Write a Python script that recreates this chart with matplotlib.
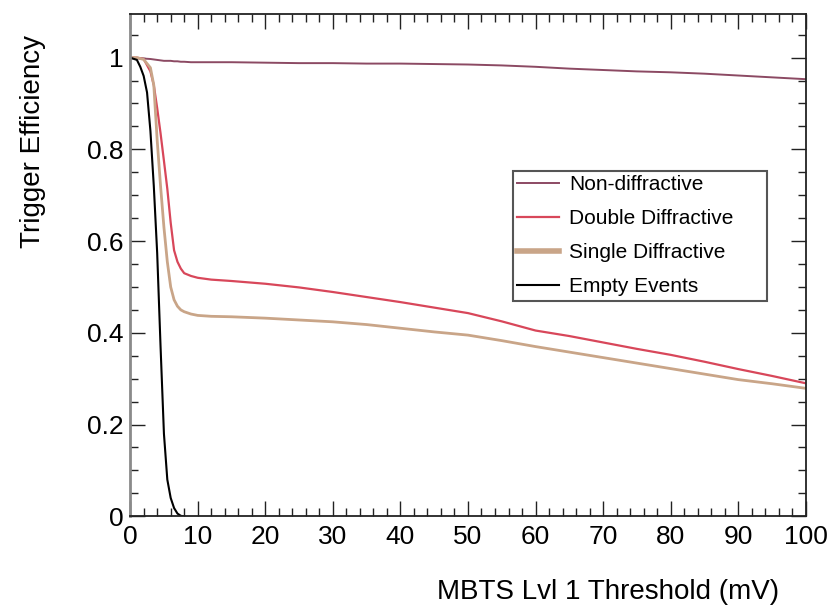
import matplotlib
matplotlib.use("Agg")
import matplotlib.pyplot as plt
from matplotlib.ticker import MultipleLocator, FuncFormatter

plt.rcParams['font.family'] = ['Liberation Sans', 'DejaVu Sans']

# threshold scan points (mV)
threshold = [0, 1, 2, 3, 3.5, 4, 4.5, 5, 5.5, 6, 6.5, 7, 7.5, 8, 9, 10, 12, 15,
             20, 25, 30, 35, 40, 45, 50, 55, 60, 65, 70, 75, 80, 85, 90, 95, 100]

eff_nondiff = [1.0, 0.999, 0.998, 0.997, 0.996, 0.995, 0.994, 0.993, 0.993, 0.993,
               0.992, 0.992, 0.991, 0.991, 0.990, 0.990, 0.990, 0.990,
               0.989, 0.988, 0.988, 0.987, 0.987, 0.986, 0.985, 0.983, 0.980,
               0.976, 0.973, 0.970, 0.968, 0.965, 0.961, 0.957, 0.953]

eff_doublediff = [1.0, 1.0, 0.997, 0.97, 0.94, 0.89, 0.835, 0.775, 0.714, 0.64,
                  0.58, 0.555, 0.54, 0.53, 0.524, 0.52, 0.516, 0.513,
                  0.507, 0.499, 0.489, 0.478, 0.467, 0.455, 0.443, 0.425, 0.405,
                  0.393, 0.379, 0.365, 0.352, 0.337, 0.321, 0.306, 0.29]

eff_singlediff = [1.0, 1.0, 0.996, 0.978, 0.94, 0.82, 0.72, 0.63, 0.555, 0.5,
                  0.472, 0.458, 0.45, 0.446, 0.441, 0.438, 0.436, 0.435,
                  0.432, 0.428, 0.424, 0.418, 0.41, 0.402, 0.395, 0.383, 0.37,
                  0.358, 0.346, 0.334, 0.322, 0.31, 0.298, 0.289, 0.279]

threshold_empty = [0, 1, 1.5, 2, 2.5, 3, 3.5, 4, 4.5, 5, 5.5, 6, 6.5, 7, 7.5, 8]
eff_empty = [1.0, 0.995, 0.98, 0.96, 0.924, 0.84, 0.72, 0.574, 0.37, 0.18,
             0.08, 0.04, 0.018, 0.006, 0.001, 0.0]

fig = plt.figure(figsize=(8.29, 6.11), dpi=100)
ax = fig.add_axes([0.157, 0.155, 0.815, 0.822])

ax.plot(threshold, eff_nondiff, color='#8c4a63', lw=1.4, label='Non-diffractive')
ax.plot(threshold, eff_doublediff, color='#d8475a', lw=1.6, label='Double Diffractive')
ax.plot(threshold, eff_singlediff, color='#c9a588', lw=2.0, label='Single Diffractive')
ax.plot(threshold_empty, eff_empty, color='black', lw=1.5, label='Empty Events')

ax.set_xlim(0, 100)
ax.set_ylim(0, 1.095)

ax.xaxis.set_major_locator(MultipleLocator(10))
ax.xaxis.set_minor_locator(MultipleLocator(2))
ax.yaxis.set_major_locator(MultipleLocator(0.2))
ax.yaxis.set_minor_locator(MultipleLocator(0.05))
ax.yaxis.set_major_formatter(FuncFormatter(lambda v, p: '%g' % round(v, 2)))

ax.tick_params(which='both', direction='in', top=True, right=True,
               labelsize=19, colors='#222222', labelcolor='black')
ax.tick_params(which='major', length=11, width=1.0)
ax.tick_params(which='minor', length=5.5, width=1.0)
ax.tick_params(axis='x', pad=6)
ax.tick_params(axis='y', pad=5)

for side in ['top', 'bottom', 'right']:
    ax.spines[side].set_color('#222222')
    ax.spines[side].set_linewidth(1.3)
ax.spines['left'].set_color('#8a8a8a')
ax.spines['left'].set_linewidth(2.0)

leg = ax.legend(loc='upper left', bbox_to_anchor=(0.567, 0.436, 0.375, 0.251),
                mode='expand', fontsize=15, frameon=True, fancybox=False,
                edgecolor='#555555', framealpha=1, borderpad=0.2,
                labelspacing=0.72, handlelength=2.0, handletextpad=0.5,
                borderaxespad=0)
leg.get_frame().set_linewidth(1.5)
leg.get_lines()[2].set_linewidth(4)

fig.text(0.94, (611 - 592) / 611, 'MBTS Lvl 1 Threshold (mV)', fontsize=20,
         ha='right', va='center')
fig.text(0.04, (611 - 35) / 611, 'Trigger Efficiency', fontsize=20,
         rotation=90, ha='center', va='top')

fig.savefig('out.png', dpi=100)
